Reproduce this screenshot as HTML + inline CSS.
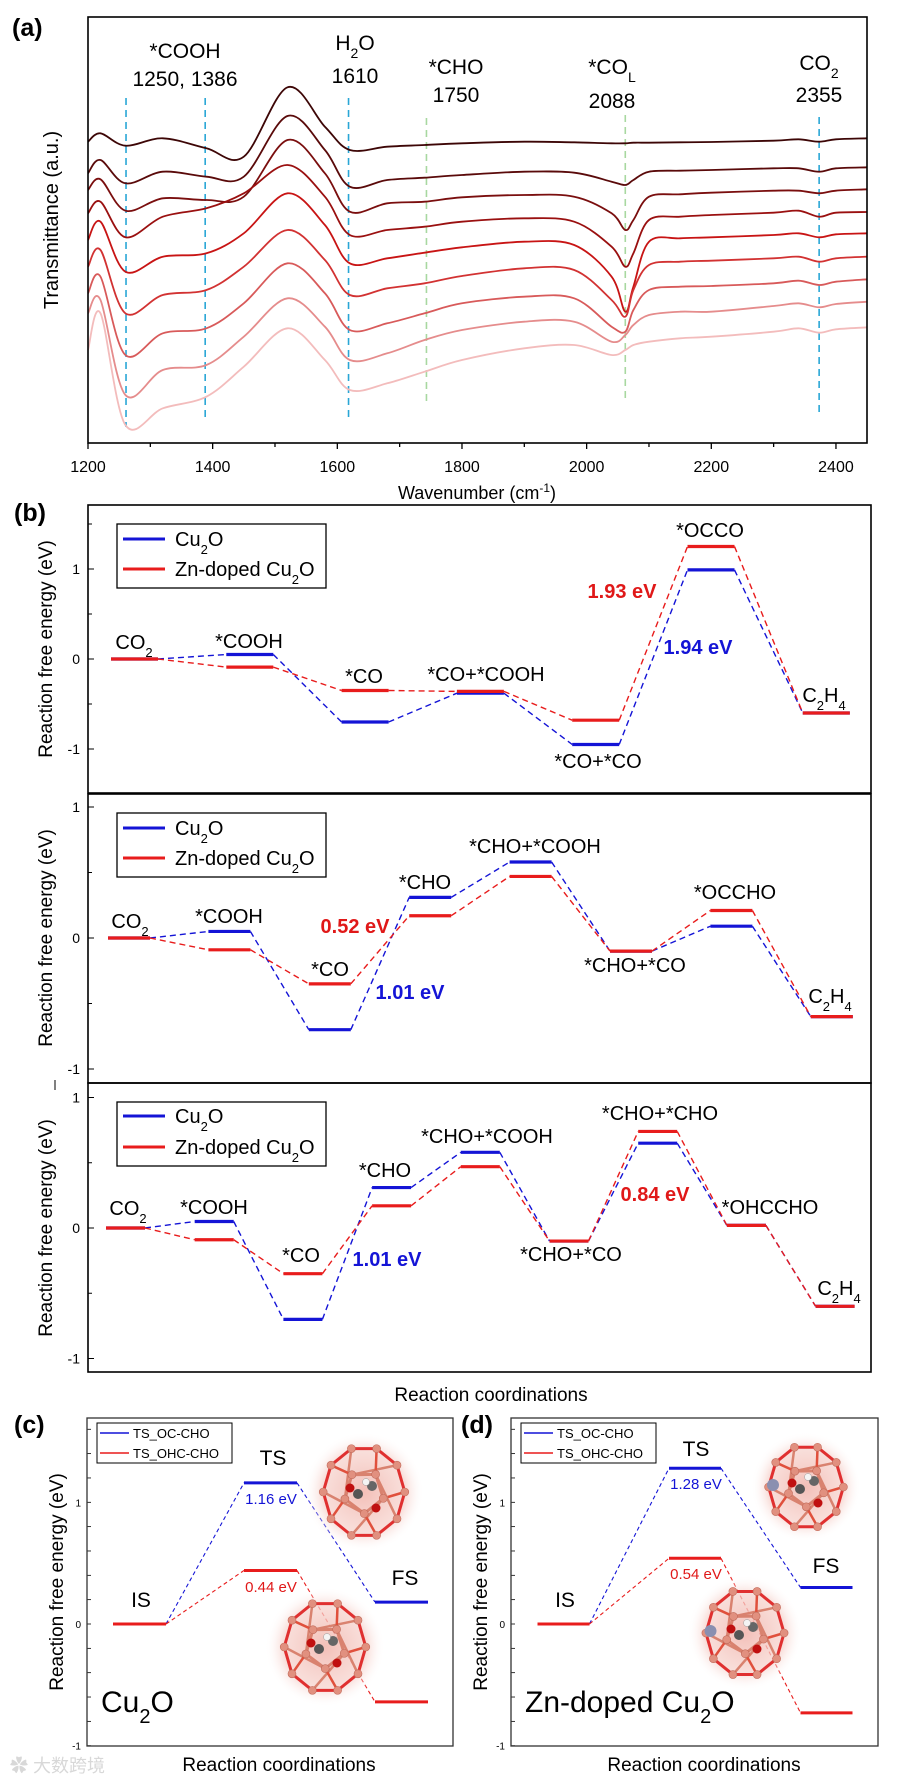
<!DOCTYPE html>
<html><head><meta charset="utf-8"><style>
html,body{margin:0;padding:0;background:#fff;}
svg{display:block;font-family:"Liberation Sans",Arial,sans-serif;}
</style></head><body>
<svg id="fig" width="910" height="1781" viewBox="0 0 910 1781" xmlns="http://www.w3.org/2000/svg">
<defs>
<radialGradient id="glow" cx="50%" cy="50%" r="50%">
<stop offset="0%" stop-color="#f2b8b0" stop-opacity="0.9"/>
<stop offset="70%" stop-color="#f6d2cc" stop-opacity="0.7"/>
<stop offset="100%" stop-color="#ffffff" stop-opacity="0"/>
</radialGradient>
</defs>

<!-- Panel (a) -->
<g>
<text x="12" y="36" font-size="25" font-weight="bold">(a)</text>
<g id="specDash"></g>
<g id="specLines"></g>
<rect x="88" y="17" width="779" height="426" fill="none" stroke="#000" stroke-width="1.6"/>
<g id="xTicksA"></g>
<text x="477" y="499" font-size="18" text-anchor="middle">Wavenumber (cm<tspan baseline-shift="super" font-size="12">-1</tspan>)</text>
<text transform="translate(58,220) rotate(-90)" font-size="20" text-anchor="middle">Transmittance (a.u.)</text>
<g font-size="21" text-anchor="middle">
<text x="185" y="58">*COOH</text><text x="185" y="86">1250, 1386</text>
<text x="355" y="50">H<tspan baseline-shift="sub" font-size="14">2</tspan>O</text><text x="355" y="83">1610</text>
<text x="456" y="74">*CHO</text><text x="456" y="102">1750</text>
<text x="612" y="74">*CO<tspan baseline-shift="sub" font-size="14">L</tspan></text><text x="612" y="108">2088</text>
<text x="819" y="70">CO<tspan baseline-shift="sub" font-size="14">2</tspan></text><text x="819" y="102">2355</text>
</g>
</g>

<!-- Panel (b) -->
<g>
<text x="14" y="521" font-size="25" font-weight="bold">(b)</text>
<g id="b1"></g>
<g id="b2"></g>
<g id="b3"></g>
<rect x="88" y="505" width="783" height="288" fill="none" stroke="#000" stroke-width="1.6"/>
<rect x="88" y="794" width="783" height="289" fill="none" stroke="#000" stroke-width="1.6"/>
<rect x="88" y="1083" width="783" height="289" fill="none" stroke="#000" stroke-width="1.6"/>
<text transform="translate(52,649) rotate(-90)" font-size="19" text-anchor="middle">Reaction free energy (eV)</text>
<text transform="translate(52,938) rotate(-90)" font-size="19" text-anchor="middle">Reaction free energy (eV)</text>
<text transform="translate(52,1228) rotate(-90)" font-size="19" text-anchor="middle">Reaction free energy (eV)</text>
<line x1="55" y1="1080" x2="55" y2="1090" stroke="#000" stroke-width="1"/>

<g font-size="20" text-anchor="middle">
<text x="134" y="649">CO<tspan baseline-shift="sub" font-size="13">2</tspan></text>
<text x="249" y="648">*COOH</text>
<text x="364" y="683">*CO</text>
<text x="486" y="681">*CO+*COOH</text>
<text x="598" y="768">*CO+*CO</text>
<text x="710" y="537">*OCCO</text>
<text x="824" y="702">C<tspan baseline-shift="sub" font-size="13">2</tspan>H<tspan baseline-shift="sub" font-size="13">4</tspan></text>
<text x="622" y="598" fill="#e01818" font-weight="bold">1.93 eV</text>
<text x="698" y="654" fill="#1414d6" font-weight="bold">1.94 eV</text>
</g>
<g font-size="20" text-anchor="middle">
<text x="130" y="928">CO<tspan baseline-shift="sub" font-size="13">2</tspan></text>
<text x="229" y="923">*COOH</text>
<text x="330" y="976">*CO</text>
<text x="425" y="889">*CHO</text>
<text x="535" y="853">*CHO+*COOH</text>
<text x="635" y="972">*CHO+*CO</text>
<text x="735" y="899">*OCCHO</text>
<text x="830" y="1003">C<tspan baseline-shift="sub" font-size="13">2</tspan>H<tspan baseline-shift="sub" font-size="13">4</tspan></text>
<text x="355" y="933" fill="#e01818" font-weight="bold">0.52 eV</text>
<text x="410" y="999" fill="#1414d6" font-weight="bold">1.01 eV</text>
</g>
<g font-size="20" text-anchor="middle">
<text x="128" y="1215">CO<tspan baseline-shift="sub" font-size="13">2</tspan></text>
<text x="214" y="1214">*COOH</text>
<text x="301" y="1262">*CO</text>
<text x="385" y="1177">*CHO</text>
<text x="487" y="1143">*CHO+*COOH</text>
<text x="571" y="1261">*CHO+*CO</text>
<text x="660" y="1120">*CHO+*CHO</text>
<text x="770" y="1214">*OHCCHO</text>
<text x="839" y="1295">C<tspan baseline-shift="sub" font-size="13">2</tspan>H<tspan baseline-shift="sub" font-size="13">4</tspan></text>
<text x="655" y="1201" fill="#e01818" font-weight="bold">0.84 eV</text>
<text x="387" y="1266" fill="#1414d6" font-weight="bold">1.01 eV</text>
</g>

<g>
<rect x="117" y="524" width="209" height="64" fill="#fff" stroke="#000" stroke-width="1.3"/>
<line x1="123" y1="539" x2="165" y2="539" stroke="#1414d6" stroke-width="3"/>
<text x="175" y="546" font-size="20">Cu<tspan baseline-shift="sub" font-size="13">2</tspan>O</text>
<line x1="123" y1="569" x2="165" y2="569" stroke="#e81c1c" stroke-width="3"/>
<text x="175" y="576" font-size="20">Zn-doped Cu<tspan baseline-shift="sub" font-size="13">2</tspan>O</text>
</g>
<g>
<rect x="117" y="813" width="209" height="64" fill="#fff" stroke="#000" stroke-width="1.3"/>
<line x1="123" y1="828" x2="165" y2="828" stroke="#1414d6" stroke-width="3"/>
<text x="175" y="835" font-size="20">Cu<tspan baseline-shift="sub" font-size="13">2</tspan>O</text>
<line x1="123" y1="858" x2="165" y2="858" stroke="#e81c1c" stroke-width="3"/>
<text x="175" y="865" font-size="20">Zn-doped Cu<tspan baseline-shift="sub" font-size="13">2</tspan>O</text>
</g>
<g>
<rect x="117" y="1102" width="209" height="64" fill="#fff" stroke="#000" stroke-width="1.3"/>
<line x1="123" y1="1116" x2="165" y2="1116" stroke="#1414d6" stroke-width="3"/>
<text x="175" y="1123" font-size="20">Cu<tspan baseline-shift="sub" font-size="13">2</tspan>O</text>
<line x1="123" y1="1147" x2="165" y2="1147" stroke="#e81c1c" stroke-width="3"/>
<text x="175" y="1154" font-size="20">Zn-doped Cu<tspan baseline-shift="sub" font-size="13">2</tspan>O</text>
</g>
<text x="491" y="1401" font-size="19" text-anchor="middle">Reaction coordinations</text>
</g>

<!-- Panels (c),(d) -->
<g>
<text x="14" y="1433" font-size="25" font-weight="bold">(c)</text>
<g id="cPlot"></g>
<rect x="87" y="1418" width="366" height="328" fill="none" stroke="#333" stroke-width="1.3"/>
<text transform="translate(63,1582) rotate(-90)" font-size="19" text-anchor="middle">Reaction free energy (eV)</text>
<text x="279" y="1771" font-size="19" text-anchor="middle">Reaction coordinations</text>
<text x="101" y="1712" font-size="30">Cu<tspan baseline-shift="sub" font-size="20">2</tspan>O</text>
<g>
<rect x="97" y="1423" width="135" height="40" fill="#fff" stroke="#000" stroke-width="1"/>
<line x1="100" y1="1433" x2="129" y2="1433" stroke="#1414d6" stroke-width="1.5"/>
<text x="133" y="1438" font-size="13">TS_OC-CHO</text>
<line x1="100" y1="1453" x2="129" y2="1453" stroke="#e81c1c" stroke-width="1.5"/>
<text x="133" y="1458" font-size="13">TS_OHC-CHO</text>
</g>
<g font-size="21" text-anchor="middle"><text x="141" y="1607">IS</text><text x="273" y="1465">TS</text><text x="405" y="1585">FS</text></g>
<text x="271" y="1504" font-size="15" fill="#1414d6" text-anchor="middle">1.16 eV</text>
<text x="271" y="1592" font-size="15" fill="#e01818" text-anchor="middle">0.44 eV</text>
</g>
<g>
<text x="461" y="1433" font-size="25" font-weight="bold">(d)</text>
<g id="dPlot"></g>
<rect x="511" y="1418" width="367" height="328" fill="none" stroke="#333" stroke-width="1.3"/>
<text transform="translate(487,1582) rotate(-90)" font-size="19" text-anchor="middle">Reaction free energy (eV)</text>
<text x="704" y="1771" font-size="19" text-anchor="middle">Reaction coordinations</text>
<text x="525" y="1712" font-size="30">Zn-doped Cu<tspan baseline-shift="sub" font-size="20">2</tspan>O</text>
<g>
<rect x="521" y="1423" width="135" height="40" fill="#fff" stroke="#000" stroke-width="1"/>
<line x1="524" y1="1433" x2="553" y2="1433" stroke="#1414d6" stroke-width="1.5"/>
<text x="557" y="1438" font-size="13">TS_OC-CHO</text>
<line x1="524" y1="1453" x2="553" y2="1453" stroke="#e81c1c" stroke-width="1.5"/>
<text x="557" y="1458" font-size="13">TS_OHC-CHO</text>
</g>
<g font-size="21" text-anchor="middle"><text x="565" y="1607">IS</text><text x="696" y="1456">TS</text><text x="826" y="1573">FS</text></g>
<text x="696" y="1489" font-size="15" fill="#1414d6" text-anchor="middle">1.28 eV</text>
<text x="696" y="1579" font-size="15" fill="#e01818" text-anchor="middle">0.54 eV</text>
</g>
<text x="10" y="1772" font-size="18" fill="#d8d8d8" font-family="'Liberation Sans','Noto Sans CJK SC',sans-serif">✿ 大数跨境</text>
</svg>

<script>
// ---------- Panel (a) data ----------
const wavenumbers = [1200,1220,1260,1320,1390,1450,1520,1580,1620,1680,1740,1800,1900,1980,2040,2062,2075,2100,2150,2200,2300,2340,2373,2400,2450];
// absorbance-like offsets (a.u., larger = lower on plot), one array per time step
const spec1 = [42.5,40.0,43.7,41.5,44.5,47.0,26.2,38.0,45.0,44.0,43.5,43.0,42.5,42.7,43.0,43.0,42.8,42.8,42.7,42.6,42.2,41.8,42.5,41.8,41.5];
const spec2 = [52.0,48.0,55.0,51.5,53.0,53.0,34.8,45.0,56.0,54.0,53.3,52.5,51.5,51.8,54.5,55.5,54.0,51.5,51.2,51.0,50.5,50.5,51.5,50.5,50.2];
const spec3 = [57.0,53.8,63.2,59.5,60.0,59.0,42.0,52.0,63.5,61.0,60.5,59.2,58.5,59.0,64.0,69.0,66.0,59.0,58.3,57.8,57.2,57.2,58.0,57.2,56.8];
const spec4 = [64.0,60.5,71.2,65.0,62.5,58.0,49.5,59.0,70.5,69.0,68.0,66.5,65.5,66.5,74.0,80.0,76.0,66.0,65.0,64.5,63.8,63.2,65.0,63.8,63.6];
const spec5 = [72.0,66.5,81.5,77.0,76.0,70.0,58.0,67.5,79.0,77.5,75.8,74.2,72.5,73.5,83.0,93.5,86.0,72.5,71.5,71.2,70.5,70.0,71.2,70.3,70.0];
const spec6 = [80.0,75.0,94.0,88.5,87.0,80.0,69.0,78.0,88.5,86.5,85.0,82.8,80.5,81.0,90.0,95.0,87.0,79.5,78.5,78.2,77.5,77.0,78.5,77.5,77.0];
const spec7 = [88.0,83.0,106.5,100.0,98.5,91.0,79.0,88.0,99.0,97.0,94.0,91.0,89.0,89.5,98.0,99.5,93.0,87.0,86.0,85.8,85.0,84.2,85.5,84.5,83.8];
const spec8 = [94.0,90.0,118.5,111.0,109.5,101.0,89.5,98.0,108.0,106.0,102.0,99.0,96.5,96.5,102.5,100.5,97.5,94.5,93.5,93.5,91.8,91.0,92.2,91.2,90.5];
const spec9 = [105.0,94.0,127.5,122.5,119.0,110.0,98.5,108.0,117.0,115.0,111.5,108.0,104.5,103.5,106.5,105.0,103.5,102.5,101.5,101.0,99.5,98.5,99.8,98.8,98.2];
const spectra = [spec1,spec2,spec3,spec4,spec5,spec6,spec7,spec8,spec9];
const xTickValues = [1200,1400,1600,1800,2000,2200,2400];
const peakPositions = [1261,1388,1618,1743,2062,2373];
const peakColors = ['#29a6d6','#29a6d6','#29a6d6','#a8d8a0','#a8d8a0','#29a6d6'];

// ---------- Panel (b) data ----------
const b1States = ['CO2','*COOH','*CO','*CO+*COOH','*CO+*CO','*OCCO','C2H4'];
const b1Cu2O = [0,0.05,-0.70,-0.38,-0.95,0.99,-0.60];
const b1Zn = [0,-0.09,-0.35,-0.36,-0.68,1.25,-0.60];
const b2States = ['CO2','*COOH','*CO','*CHO','*CHO+*COOH','*CHO+*CO','*OCCHO','C2H4'];
const b2Cu2O = [0,0.05,-0.70,0.31,0.58,-0.10,0.09,-0.60];
const b2Zn = [0,-0.09,-0.35,0.17,0.47,-0.10,0.21,-0.60];
const b3States = ['CO2','*COOH','*CO','*CHO','*CHO+*COOH','*CHO+*CO','*CHO+*CHO','*OHCCHO','C2H4'];
const b3Cu2O = [0,0.05,-0.70,0.31,0.58,-0.10,0.65,0.02,-0.60];
const b3Zn = [0,-0.09,-0.35,0.17,0.47,-0.10,0.74,0.02,-0.60];
const bTickLabels = ['1','0','-1'];
const bTickValues = [1,0,-1];

// ---------- Panels (c),(d) data ----------
const tsStates = ['IS','TS','FS'];
const cOCCHO = [0,1.16,0.18];
const cOHCCHO = [0,0.44,-0.64];
const dOCCHO = [0,1.28,0.30];
const dOHCCHO = [0,0.54,-0.73];

const NS = 'http://www.w3.org/2000/svg';
function mk(tag, attrs, parent){
  const e = document.createElementNS(NS, tag);
  for (const k in attrs) e.setAttribute(k, attrs[k]);
  parent.appendChild(e);
  return e;
}
const BLUE = '#1414d6', RED = '#e81c1c';

// ----- Panel (a) scales -----
function xA(w){ return 88 + (w - 1200) * 0.6233; }
function yA(a){ return a * 10 / 3; }
function crPath(pts){
  let d = 'M' + pts[0][0].toFixed(1) + ',' + pts[0][1].toFixed(1);
  for (let i = 0; i < pts.length - 1; i++){
    const p0 = pts[Math.max(0,i-1)], p1 = pts[i], p2 = pts[i+1], p3 = pts[Math.min(pts.length-1,i+2)];
    const c1x = p1[0] + (p2[0]-p0[0])/6, c1y = p1[1] + (p2[1]-p0[1])/6;
    const c2x = p2[0] - (p3[0]-p1[0])/6, c2y = p2[1] - (p3[1]-p1[1])/6;
    d += ' C' + c1x.toFixed(1)+','+c1y.toFixed(1)+' '+c2x.toFixed(1)+','+c2y.toFixed(1)+' '+p2[0].toFixed(1)+','+p2[1].toFixed(1);
  }
  return d;
}
const specColors = ['#3d0606','#5a0a0a','#7a0e0e','#9a1010','#c81414','#d23232','#d85a5a','#e58c8c','#f3bcbc'];
const specLines = document.getElementById('specLines');
spectra.forEach((s, k) => {
  const pts = wavenumbers.map((w, i) => [xA(w), yA(s[i])]);
  const p = mk('path', {d: crPath(pts), fill:'none', stroke: specColors[k], 'stroke-width': 1.8}, specLines);
  
  
});
const dashTop = [98,98,98,118,115,117];
const dashBot = [427,422,418,403,402,417];
const specDash = document.getElementById('specDash');
peakPositions.forEach((w, i) => {
  const l = mk('line', {x1: xA(w), x2: xA(w), y1: dashTop[i], y2: dashBot[i], stroke: peakColors[i], 'stroke-width': 1.6, 'stroke-dasharray': '7 5'}, specDash);
  
  
});
const xTicksA = document.getElementById('xTicksA');
for (let w = 1200; w <= 2400; w += 100){
  mk('line', {x1: xA(w), x2: xA(w), y1: 443, y2: (w % 200 === 0) ? 449 : 447, stroke:'#000', 'stroke-width': 1.3}, xTicksA);
}
xTickValues.forEach(v => {
  const t = mk('text', {x: xA(v), y: 472, 'font-size': 16, 'text-anchor':'middle'}, xTicksA);
  t.textContent = v;
  
  
});

// ----- Panel (b) -----
function drawEnergy(gid, states, blue, red, x0, dx, hw, yZero, pxEV, yMin, yMax){
  const g = document.getElementById(gid);
  const X = i => x0 + i * dx;
  const Y = e => yZero - e * pxEV;
  for (let t = Math.ceil(yMin*2)/2; t <= yMax; t += 0.5){
    const major = Math.abs(t - Math.round(t)) < 1e-6;
    mk('line', {x1: 88, x2: 88 + (major ? 6 : 4), y1: Y(t), y2: Y(t), stroke:'#000', 'stroke-width': 1}, g);
  }
  bTickValues.forEach((v, i) => {
    const t = mk('text', {x: 80, y: Y(v) + 5, 'font-size': 14, 'text-anchor':'end'}, g);
    t.textContent = bTickLabels[i];
    
    
  });
  [[blue, BLUE, 'cu2o'], [red, RED, 'zn-cu2o']].forEach(([vals, col, nm]) => {
    for (let i = 0; i < vals.length - 1; i++){
      const c = mk('line', {x1: X(i) + hw, y1: Y(vals[i]), x2: X(i+1) - hw, y2: Y(vals[i+1]), stroke: col, 'stroke-width': 1.4, 'stroke-dasharray': '6 4'}, g);
      
      
    }
  });
  [[blue, BLUE, 'cu2o'], [red, RED, 'zn-cu2o']].forEach(([vals, col, nm]) => {
    vals.forEach((v, i) => {
      const l = mk('line', {x1: X(i) - hw, x2: X(i) + hw, y1: Y(v), y2: Y(v), stroke: col, 'stroke-width': 3.2}, g);
      
      
    });
  });
}
drawEnergy('b1', b1States, b1Cu2O, b1Zn, 134.5, 115.3, 23.5, 659, 90, -1.5, 1.7);
drawEnergy('b2', b2States, b2Cu2O, b2Zn, 129, 100.4, 21, 938, 131, -1.1, 1.1);
drawEnergy('b3', b3States, b3Cu2O, b3Zn, 125.5, 88.7, 19.5, 1228, 130.5, -1.1, 1.1);

// ----- Panels (c),(d) -----
function cluster(g, cx, cy, r, zn){
  mk('ellipse', {cx, cy, rx: r*1.25, ry: r*1.25, fill:'url(#glow)'}, g);
  const outer = [], inner = [];
  for (let k = 0; k < 10; k++){ const a = k*Math.PI/5; outer.push([cx + r*0.85*Math.cos(a), cy + r*0.95*Math.sin(a)]); }
  for (let k = 0; k < 5; k++){ const a = k*2*Math.PI/5 + 0.3; inner.push([cx + r*0.42*Math.cos(a), cy + r*0.45*Math.sin(a)]); }
  for (let k = 0; k < 10; k++){ const a = outer[k], b = outer[(k+1)%10]; mk('line', {x1:a[0],y1:a[1],x2:b[0],y2:b[1],stroke:'#e03030','stroke-width':3}, g); }
  for (let k = 0; k < 5; k++){
    const a = inner[k], b = inner[(k+1)%5], o = outer[2*k], o2 = outer[(2*k+3)%10];
    mk('line', {x1:a[0],y1:a[1],x2:b[0],y2:b[1],stroke:'#d9826f','stroke-width':3}, g);
    mk('line', {x1:a[0],y1:a[1],x2:o[0],y2:o[1],stroke:'#e0503c','stroke-width':2.5}, g);
    mk('line', {x1:a[0],y1:a[1],x2:o2[0],y2:o2[1],stroke:'#d9826f','stroke-width':2.5}, g);
  }
  outer.concat(inner).forEach(p => mk('circle', {cx:p[0], cy:p[1], r:4, fill:'#e1907f', stroke:'#c06a5a','stroke-width':0.6}, g));
  mk('circle', {cx: cx-6, cy: cy+2, r:5, fill:'#555'}, g);
  mk('circle', {cx: cx+8, cy: cy-6, r:5, fill:'#666'}, g);
  mk('circle', {cx: cx-14, cy: cy-4, r:4.5, fill:'#c01010'}, g);
  mk('circle', {cx: cx+12, cy: cy+16, r:4.5, fill:'#c01010'}, g);
  mk('circle', {cx: cx+2, cy: cy-10, r:3.5, fill:'#f4f4f4', stroke:'#999','stroke-width':0.5}, g);
  if (zn) mk('circle', {cx: cx - r*0.75, cy: cy - 2, r:6, fill:'#8a8fb0'}, g);
}
function drawTS(gid, ax0, oc, ohc, x0, dx, hw, clusters, zn){
  const g = document.getElementById(gid);
  const X = i => x0 + i * dx;
  const Y = e => 1624 - e * 121.7;
  for (let t = -1; t <= 1.6; t += 0.2){
    mk('line', {x1: ax0, x2: ax0 + 4, y1: Y(t), y2: Y(t), stroke:'#000', 'stroke-width': 0.8}, g);
  }
  [[1,'1'],[0,'0'],[-1,'-1']].forEach(([v, s]) => {
    const t = mk('text', {x: ax0 - 6, y: Y(v) + 4, 'font-size': 10, 'text-anchor':'end'}, g);
    t.textContent = s;
    
    
  });
  [[oc, BLUE, 'ts-oc-cho'], [ohc, RED, 'ts-ohc-cho']].forEach(([vals, col, nm]) => {
    for (let i = 0; i < vals.length - 1; i++){
      const c = mk('line', {x1: X(i) + hw, y1: Y(vals[i]), x2: X(i+1) - hw, y2: Y(vals[i+1]), stroke: col, 'stroke-width': 1.1, 'stroke-dasharray': '4 3'}, g);
      
      
    }
  });
  clusters.forEach(c => cluster(g, c[0], c[1], c[2], zn));
  [[oc, BLUE, 'ts-oc-cho'], [ohc, RED, 'ts-ohc-cho']].forEach(([vals, col, nm]) => {
    vals.forEach((v, i) => {
      const l = mk('line', {x1: X(i) - hw, x2: X(i) + hw, y1: Y(v), y2: Y(v), stroke: col, 'stroke-width': 3}, g);
      
      
    });
  });
}
drawTS('cPlot', 87, cOCCHO, cOHCCHO, 139.5, 131, 26.5, [[364,1492,48],[325,1647,48]], false);
drawTS('dPlot', 511, dOCCHO, dOHCCHO, 563.5, 131.5, 26, [[806,1487,44],[745,1633,46]], true);
</script>
</body></html>
